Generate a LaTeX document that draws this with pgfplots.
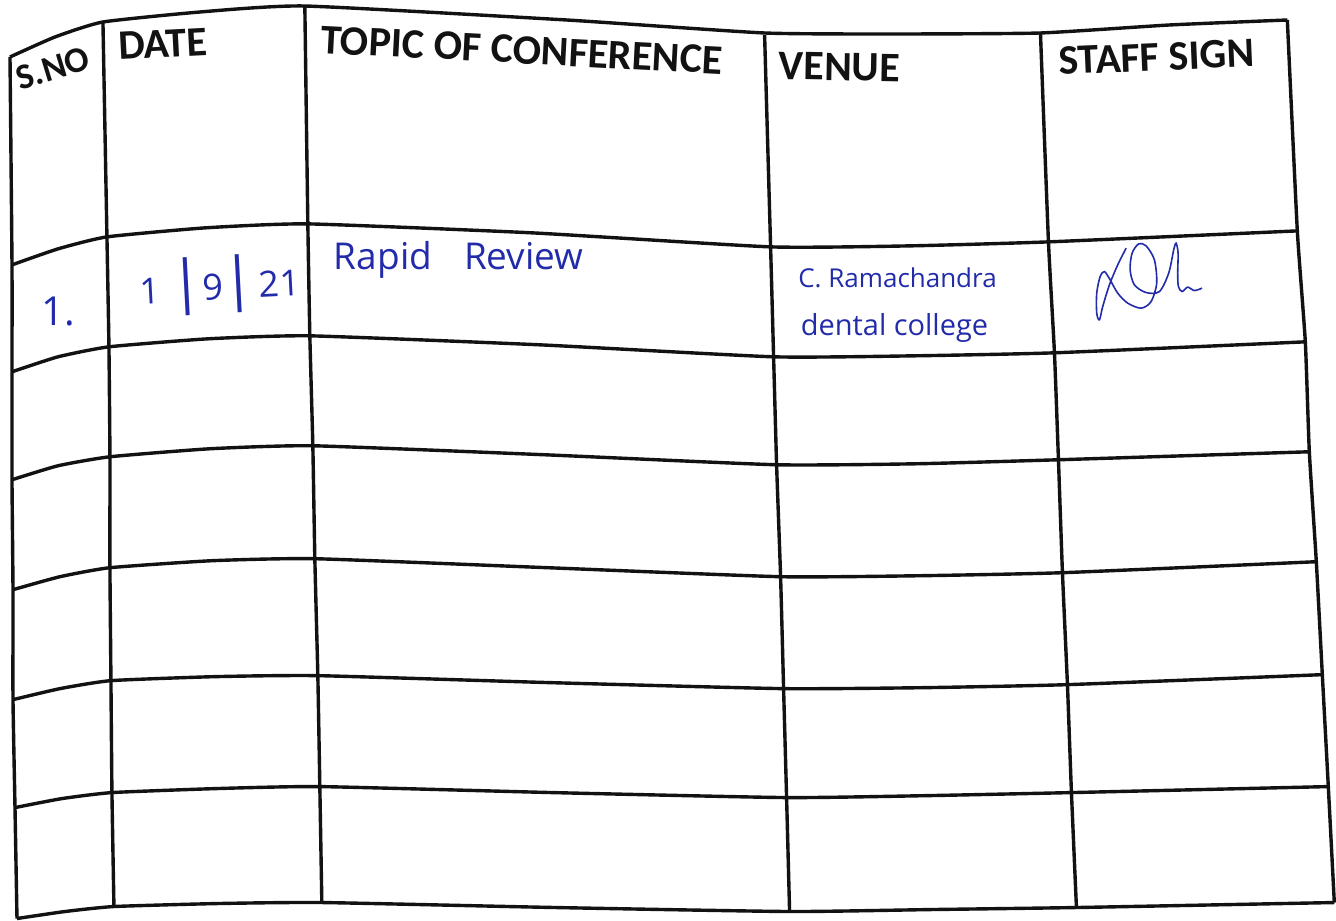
\documentclass[border=0pt]{standalone}
\usepackage{pgfplots}
\pgfplotsset{compat=1.18}
\usepackage{fontspec}
\setmainfont{Carlito}
\newfontfamily\hand{Open Sans}
\definecolor{ink}{RGB}{34,44,170}
\definecolor{rule}{RGB}{18,18,18}
\begin{document}
\begin{tikzpicture}
\begin{axis}[
  scale only axis, width=1336pt, height=919pt,
  xmin=0, xmax=1336, ymin=0, ymax=919, y dir=reverse,
  hide axis, clip=false,
]
\addplot[fill=white, draw=none] coordinates {(0,0) (1336,0) (1336,919) (0,919) (0,0)};
% ---- vertical rules
\addplot[rule, line width=3.4pt, smooth, tension=0.3] coordinates {(10,57) (12,265) (12,372) (12,480) (13,590) (13,700) (15,808) (17,919)};
\addplot[rule, line width=3.4pt, smooth, tension=0.3] coordinates {(103,22) (107,237) (109,347) (110,457) (110,568) (111,681) (112,793) (114,907)};
\addplot[rule, line width=3.4pt, smooth, tension=0.3] coordinates {(305,6) (308,224) (310,336) (313,446) (315,559) (318,676) (320,787) (322,903)};
\addplot[rule, line width=3.4pt, smooth, tension=0.3] coordinates {(765,35) (771,247) (774,357) (777,465) (781,577) (784,689) (787,798) (790,912)};
\addplot[rule, line width=3.4pt, smooth, tension=0.3] coordinates {(1041,33) (1049,242) (1055,353) (1059,460) (1063,573) (1068,685) (1072,793) (1077,908)};
\addplot[rule, line width=3.4pt, smooth, tension=0.3] coordinates {(1288,20) (1298,231) (1306,342) (1310,452) (1317,562) (1323,675) (1329,787) (1335,903)};
% ---- horizontal rules
\addplot[rule, line width=3.4pt, smooth, tension=0.3] coordinates {(10,57) (55,37) (103,22) (200,12) (305,6) (567,20) (765,33) (900,34) (1041,33) (1170,25) (1288,20)};
\addplot[rule, line width=3.4pt, smooth, tension=0.3] coordinates {(12,265) (58,249) (107,237) (205,228) (308,224) (533,233) (771,247) (910,246) (1049,242) (1298,231)};
\addplot[rule, line width=3.4pt, smooth, tension=0.3] coordinates {(12,372) (58,357) (109,347) (208,339) (310,336) (540,345) (774,357) (915,356) (1055,353) (1306,342)};
\addplot[rule, line width=3.4pt, smooth, tension=0.3] coordinates {(12,480) (58,466) (110,457) (210,449) (313,446) (545,455) (777,465) (918,464) (1059,460) (1310,452)};
\addplot[rule, line width=3.4pt, smooth, tension=0.3] coordinates {(13,590) (60,577) (110,568) (212,561) (315,559) (548,568) (781,577) (922,576) (1063,573) (1317,562)};
\addplot[rule, line width=3.4pt, smooth, tension=0.3] coordinates {(13,700) (60,689) (111,681) (215,677) (318,676) (551,683) (784,689) (926,688) (1068,685) (1323,675)};
\addplot[rule, line width=3.4pt, smooth, tension=0.3] coordinates {(15,808) (62,799) (112,793) (216,789) (320,787) (553,793) (787,798) (930,796) (1072,793) (1329,787)};
\addplot[rule, line width=3.4pt, smooth, tension=0.3] coordinates {(17,919) (65,912) (114,907) (218,904) (322,903) (556,908) (790,912) (933,910) (1077,908) (1335,903)};
% ---- signature
\addplot[ink, line width=1.6pt, smooth, tension=0.5] coordinates {
(1126.7,248.3) (1118.3,265) (1110,285) (1103.3,306.7) (1100,320) (1097.3,313.3)
(1097.3,293.3) (1100.7,276.7) (1105,271.7) (1110.7,280) (1118.3,293.3) (1128.3,303.3)
(1141.7,308.3) (1151.7,301.7) (1157.3,283.3) (1155,260) (1146.7,246) (1139.3,244)
(1132.7,253.3) (1130.7,270) (1135,285) (1146.7,292.7) (1160,291.7) (1169.3,273.3)
(1174.3,250) (1176.7,243.3) (1178.7,253.3) (1178.3,273.3) (1179,286.7) (1182.7,291.7)
(1188.3,287.3) (1195,290.7) (1202.7,288.3)};
% ---- headings
\node[rotate=17, font=\fontsize{36}{40}\selectfont\bfseries, text=rule] at (axis cs:53,68) {S.NO};
\node[rotate=3, font=\fontsize{42}{46}\selectfont\bfseries, text=rule] at (axis cs:163,44) {DATE};
\node[rotate=-3, font=\fontsize{42}{46}\selectfont\bfseries, text=rule] at (axis cs:522,50) {TOPIC OF CONFERENCE};
\node[rotate=-1, font=\fontsize{42}{46}\selectfont\bfseries, text=rule] at (axis cs:840,67) {VENUE};
\node[rotate=2.5, font=\fontsize{42}{46}\selectfont\bfseries, text=rule] at (axis cs:1157,57) {STAFF SIGN};
% ---- handwritten entries
\node[font=\hand\fontsize{40}{44}\selectfont, text=ink] at (axis cs:58,312) {1.};
\node[rotate=3, font=\hand\fontsize{36}{40}\selectfont, text=ink] at (axis cs:220,285) {1\hspace{10pt}{\fontsize{58}{60}\selectfont|}9{\fontsize{58}{60}\selectfont|}\hspace{4pt}21};
\node[font=\hand\fontsize{37}{40}\selectfont, text=ink] at (axis cs:459,260) {Rapid\hspace{32pt}Review};
\node[font=\hand\fontsize{26}{30}\selectfont, text=ink] at (axis cs:898,278) {C. Ramachandra};
\node[font=\hand\fontsize{29}{32}\selectfont, text=ink] at (axis cs:895,328) {dental college};
\end{axis}
\end{tikzpicture}
\end{document}
